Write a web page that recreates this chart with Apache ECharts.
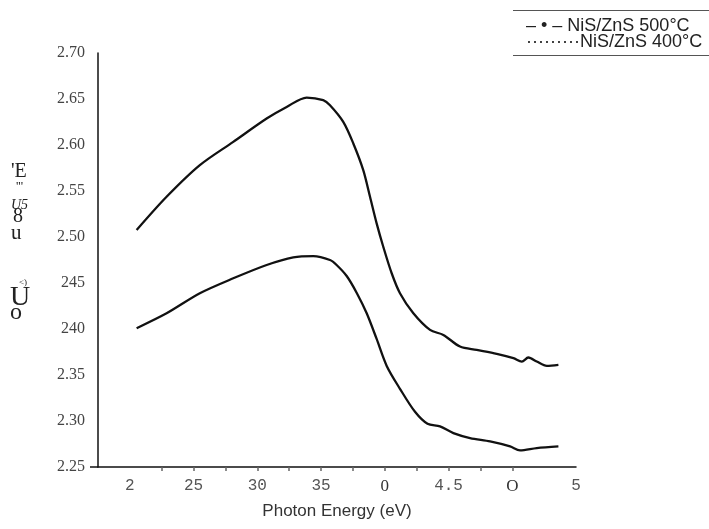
<!DOCTYPE html>
<html><head><meta charset="utf-8">
<script src="https://cdn.jsdelivr.net/npm/echarts@6/dist/echarts.min.js"></script>
<style>html,body{margin:0;padding:0;background:#fff}#c{width:709px;height:529px}</style>
</head><body><div id="c"></div>
<script>
// ---- data ----
const seriesNames = ['NiS/ZnS 500°C', 'NiS/ZnS 400°C'];
const legendPrefixes = ['– • – ', '·········'];
const energy500 = [2.053,2.288,2.549,2.811,3.073,3.230,3.387,3.517,3.570,3.674,3.753,3.831,3.884,3.936,3.988,4.054,4.119,4.224,4.355,4.459,4.590,4.721,4.878,5.009,5.075,5.126,5.192,5.271,5.362];
const n500 = [2.5076,2.5437,2.5781,2.6034,2.6288,2.6414,2.6516,2.6487,2.6432,2.6251,2.6017,2.5727,2.5437,2.5148,2.4894,2.4606,2.4389,2.4171,2.3990,2.3936,2.3809,2.3773,2.3730,2.3683,2.3646,2.3690,2.3646,2.3599,2.3610];
const energy400 = [2.053,2.288,2.549,2.811,3.073,3.282,3.439,3.570,3.622,3.701,3.780,3.858,3.936,4.015,4.119,4.237,4.335,4.433,4.538,4.669,4.826,4.983,5.061,5.192,5.362];
const n400 = [2.4009,2.4171,2.4389,2.4551,2.4696,2.4779,2.4793,2.4750,2.4696,2.4576,2.4392,2.4171,2.3892,2.3599,2.3350,2.3100,2.2970,2.2941,2.2869,2.2815,2.2778,2.2724,2.2680,2.2706,2.2724];
const xTickValues = [2, 2.5, 3, 3.5, 4, 4.5, 5, 5.5];
const xTickLabels = ['2', '25', '30', '35', '0', '4.5', 'O', '5'];
const xSmallTicks = [2.25, 2.5, 2.75, 3, 3.25, 3.5, 3.75, 4, 4.25, 4.5, 4.75, 5];
const yTickLabels = ['2.25', '2.30', '2.35', '240', '245', '2.50', '2.55', '2.60', '2.65', '2.70'];
const xTitle = 'Photon Energy (eV)';
const yTitlePieces = ["'E", "'''", 'U5', '8', 'u', '<)', 'U', 'o'];

const zip = (xs, ys) => xs.map((x, i) => [x, ys[i]]);
const chart = echarts.init(document.getElementById('c'));

const yTitleLayout = [
  {x: 11, y: 172, size: 20, style: 'normal'},
  {x: 16, y: 187, size: 13, style: 'normal'},
  {x: 11, y: 205, size: 14, style: 'italic'},
  {x: 13, y: 217, size: 20, style: 'normal'},
  {x: 11, y: 233, size: 21, style: 'normal'},
  {x: 19, y: 283, size: 9, style: 'normal'},
  {x: 10, y: 298, size: 28, style: 'normal'},
  {x: 10, y: 313, size: 24, style: 'normal'}
];

chart.setOption({
  backgroundColor: '#fff',
  animation: false,
  grid: {left: 98, right: 133, top: 53, bottom: 62, containLabel: false},
  legend: {
    data: seriesNames.map(n => ({name: n, icon: 'none'})),
    orient: 'vertical', left: 516, top: 12, itemGap: -2,
    itemWidth: 0, itemHeight: 0,
    formatter: name => legendPrefixes[seriesNames.indexOf(name)] + name,
    textStyle: {fontFamily: 'Liberation Sans, Arial, sans-serif', fontSize: 18, lineHeight: 16, color: '#222'}
  },
  xAxis: {
    type: 'value', min: 1.75, max: 5.5,
    name: xTitle, nameLocation: 'middle', nameGap: 36,
    nameTextStyle: {fontFamily: 'Liberation Sans, Arial, sans-serif', fontSize: 17, color: '#333'},
    axisLine: {show: true, lineStyle: {color: '#111', width: 1.5}},
    axisTick: {show: true, customValues: xSmallTicks, length: 4, lineStyle: {color: '#666', width: 1.5}},
    axisLabel: {
      customValues: xTickValues, margin: 11,
      formatter: v => {
        const i = xTickValues.findIndex(t => Math.abs(t - v) < 1e-6);
        if (i < 0) return '';
        const t = xTickLabels[i];
        const s = (t === '0' || t === 'O') ? 's' : 'm';
        return '{' + s + '|' + t + '}';
      },
      rich: {
        m: {fontFamily: 'Liberation Mono, DejaVu Sans Mono, monospace', fontSize: 16, color: '#555'},
        s: {fontFamily: 'Liberation Serif, serif', fontSize: 17, color: '#333'}
      }
    },
    splitLine: {show: false}
  },
  yAxis: {
    type: 'value', min: 2.25, max: 2.70, interval: 0.05,
    axisLine: {show: true, lineStyle: {color: '#111', width: 1.5}},
    axisTick: {show: true, customValues: [2.25], length: 8, lineStyle: {color: '#111', width: 1.5}},
    axisLabel: {
      margin: 13,
      formatter: v => yTickLabels[Math.round((v - 2.25) / 0.05)] || '',
      fontFamily: 'Liberation Serif, serif', fontSize: 16, color: '#444'
    },
    splitLine: {show: false}
  },
  series: [
    {name: seriesNames[0], type: 'line', data: zip(energy500, n500), smooth: 0.3,
     showSymbol: false, symbol: 'none', color: '#111', lineStyle: {color: '#111', width: 2.3}},
    {name: seriesNames[1], type: 'line', data: zip(energy400, n400), smooth: 0.3,
     showSymbol: false, symbol: 'none', color: '#111', lineStyle: {color: '#111', width: 2.3}}
  ],
  graphic: [
    {type: 'line', shape: {x1: 513, y1: 10.5, x2: 709, y2: 10.5}, style: {stroke: '#555', lineWidth: 1}},
    {type: 'line', shape: {x1: 513, y1: 55.5, x2: 709, y2: 55.5}, style: {stroke: '#555', lineWidth: 1}}
  ].concat(yTitlePieces.map((t, i) => ({
    type: 'text', left: yTitleLayout[i].x, top: yTitleLayout[i].y - yTitleLayout[i].size / 2,
    style: {text: t, fill: '#222', font: yTitleLayout[i].style + ' ' + yTitleLayout[i].size + 'px "Liberation Serif", serif'}
  })))
});
</script>
</body></html>
